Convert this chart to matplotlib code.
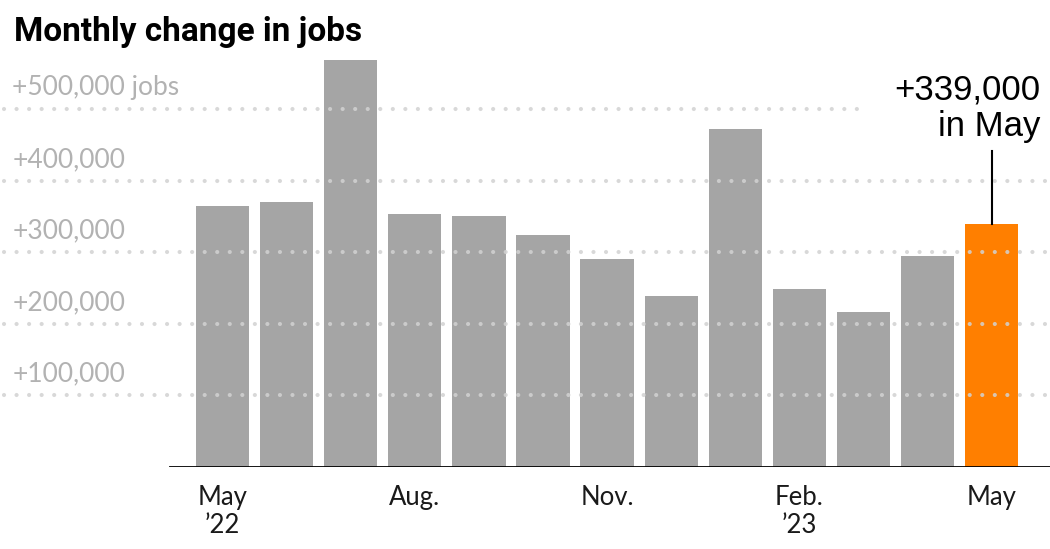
import numpy as np
import matplotlib
matplotlib.use('Agg')
from matplotlib import pyplot as plt

# monthly change in jobs, May '22 .. May '23
months = ['May', 'Jun', 'Jul', 'Aug', 'Sep', 'Oct', 'Nov', 'Dec', 'Jan', 'Feb', 'Mar', 'Apr', 'May']
jobs = [364000, 370000, 568000, 353000, 351000, 324000, 290000, 239000, 472000, 248000, 217000, 294000, 339000]
tick_pos = [0, 3, 6, 9, 12]
tick_labels = ['May\n\u201922', 'Aug.', 'Nov.', 'Feb.\n\u201923', 'May']
grid_vals = [100000, 200000, 300000, 400000, 500000]
grid_labels = ['+100,000', '+200,000', '+300,000', '+400,000', '+500,000 jobs']

GREY = '#a5a5a5'
ORANGE = '#ff7f00'
LABEL_GREY = '#b2b2b2'

fig = plt.figure(figsize=(10.5, 5.49), dpi=100)
ax = fig.add_axes([0, 1 - 467/549, 1, 417/549])

x = np.arange(len(jobs))
colors = [GREY]*(len(jobs)-1) + [ORANGE]
ax.bar(x, jobs, width=0.83, color=colors, zorder=2)

step = 64.1
ax.set_xlim(-222.5/step, (1050-222.5)/step)
ax.set_ylim(0, 417/0.716*1000)

# dotted grid lines + labels
for v, lab in zip(grid_vals, grid_labels):
    xmax = 865/1050 if v == 500000 else 1.0
    ax.axhline(v, xmin=4/1050, xmax=xmax, color='#d2d2d2', lw=3,
               linestyle=(0, (0.01, 3)), dash_capstyle='round', zorder=3, alpha=0.85)
    ax.text(-210/step, v + 12000, lab, color=LABEL_GREY, fontsize=19,
            family='Lato', ha='left', va='bottom', zorder=4)

ax.axhline(0, xmin=170/1050, xmax=1.0, color='black', lw=2, zorder=4)

# annotation for latest month
ax.plot([12, 12], [jobs[-1], 442000], color='black', lw=1.5, zorder=4)
ax.text(1040/step - 222.5/step, 452000, '+339,000\nin May', ha='right', va='bottom',
        fontsize=25, family='Liberation Sans', linespacing=1.15, zorder=4)

ax.set_xticks(tick_pos)
ax.set_xticklabels(tick_labels, fontsize=18.5, family='Lato', color='#1a1a1a',
                   linespacing=1.15, va='top')
ax.tick_params(axis='x', length=0, pad=13)
ax.set_yticks([])
for s in ax.spines.values():
    s.set_visible(False)

fig.text(14/1050, 1 - 32/549, 'Monthly change in jobs', fontsize=24, fontweight='bold',
         family='Roboto', ha='left', va='center')

fig.savefig('out.png', dpi=100)
